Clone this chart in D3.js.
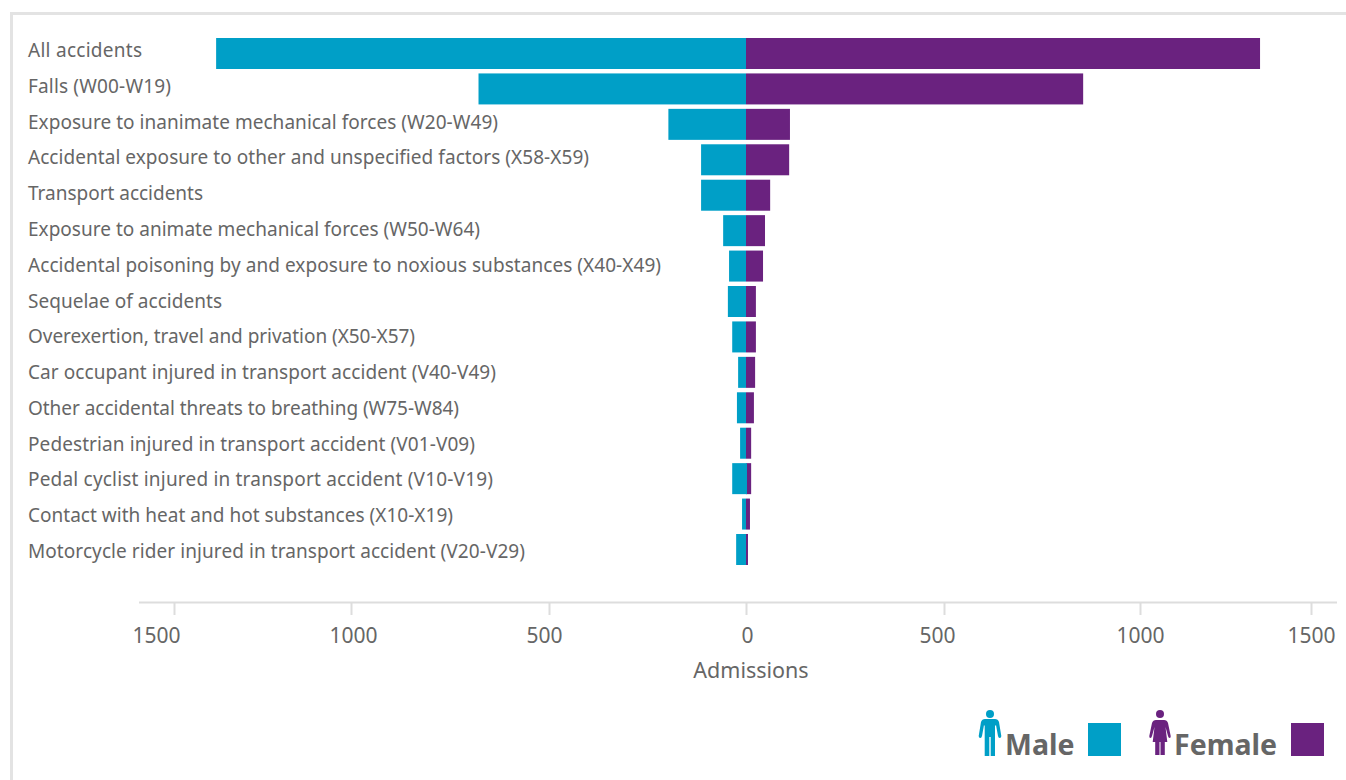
<!DOCTYPE html>
<html><head><meta charset="utf-8">
<script src="https://cdn.jsdelivr.net/npm/d3@7"></script>
<style>
html,body{margin:0;padding:0;background:#fff;overflow:hidden}
text{font-family:"Noto Sans",sans-serif;fill:#666}
</style></head><body>
<svg id="c" width="1346" height="780"></svg>
<script>
const categories=["All accidents","Falls (W00-W19)","Exposure to inanimate mechanical forces (W20-W49)","Accidental exposure to other and unspecified factors (X58-X59)","Transport accidents","Exposure to animate mechanical forces (W50-W64)","Accidental poisoning by and exposure to noxious substances (X40-X49)","Sequelae of accidents","Overexertion, travel and privation (X50-X57)","Car occupant injured in transport accident (V40-V49)","Other accidental threats to breathing (W75-W84)","Pedestrian injured in transport accident (V01-V09)","Pedal cyclist injured in transport accident (V10-V19)","Contact with heat and hot substances (X10-X19)","Motorcycle rider injured in transport accident (V20-V29)"];
const male=[1381,678,197,114,114,58,43,46,35,20,23,15,35,10,25];
const female=[1351,855,111,109,61,48,43,25,25,23,20,13,13,10,5];
const maleOverlap=[0,0,0,0,0,0,0,0,0,0,0,0,2.5,0,0];
const tickValues=[-1500,-1000,-500,0,500,1000,1500];
const maleColor="#009fc7",femaleColor="#6a227f";
const labelWidths=new Map(categories.map((c,i)=>[c,[114,143,470,561,175,452,633,194,387,468,431,447,465,425,497][i]]));
const svg=d3.select("#c");
svg.append("rect").attr("x",11.5).attr("y",13.5).attr("width",1400).attr("height",800).attr("fill","none").attr("stroke","#e3e3e3").attr("stroke-width",3);
const x=d3.scaleLinear().domain(tickValues).range([174,351,549,746,944,1140,1311]);
const labelX=d3.scaleOrdinal().domain(tickValues).range([156,353,544,747,937,1140,1311]);
const y=d3.scaleBand().domain(categories).range([38,565]).paddingInner(0.125).paddingOuter(0);
const labelY=d3.scalePoint().domain(categories).range([57,558]);
svg.append("g").selectAll("rect").data(categories).join("rect")
 .attr("x",x(0)).attr("y",d=>y(d)).attr("height",y.bandwidth())
 .attr("width",(d,i)=>x(female[i])-x(0)).attr("fill",femaleColor);
svg.append("g").selectAll("rect").data(categories).join("rect")
 .attr("x",(d,i)=>x(-male[i])).attr("y",d=>y(d)).attr("height",y.bandwidth())
 .attr("width",(d,i)=>x(maleOverlap[i])-x(-male[i])).attr("fill",maleColor);
svg.append("g").selectAll("text").data(categories).join("text")
 .attr("x",28).attr("y",d=>labelY(d)).attr("font-size",19)
 .attr("textLength",d=>labelWidths.get(d)).attr("lengthAdjust","spacing").text(d=>d);
const ax=d3.axisBottom(x).tickValues(tickValues).tickFormat(d=>Math.abs(d)).tickSize(13).tickSizeOuter(0).tickPadding(9);
const gx=svg.append("g").attr("transform","translate(0,602)").call(ax);
gx.select(".domain").attr("d","M139,0.5H1337").attr("stroke","#ddd").attr("stroke-width",2);
gx.selectAll(".tick line").attr("stroke","#ddd").attr("stroke-width",2);
gx.selectAll(".tick text").attr("font-size",21).style("font-family",'"Noto Sans",sans-serif').attr("fill","#666")
 .attr("dy",null).attr("y",41).attr("x",d=>labelX(d)-x(d));
svg.append("text").attr("x",751).attr("y",678).attr("text-anchor","middle").attr("font-size",21.5).text("Admissions");
const lg=svg.append("g");
function man(g,c){g.append("circle").attr("cx",12).attr("cy",4).attr("r",4).attr("fill",c);
 g.append("path").attr("fill",c).attr("d","M7,9H17Q20,9 21,12L23.3,26Q23.5,28 21.5,28Q20.5,28 20,26L18,15L17,16V46H12.7V27H11.3V46H6.7V16L6,15L4,26Q3.5,28 2.5,28Q0.5,28 0.7,26L3,12Q4,9 7,9Z");}
function woman(g,c){g.append("circle").attr("cx",11).attr("cy",4).attr("r",4).attr("fill",c);
 g.append("path").attr("fill",c).attr("d","M7,10H15Q18,10 19,13L21.7,26Q22,28 20.5,28Q19.5,28 19,26L16.5,17L18.3,32H15.8V45H11.5V32H10.5V45H6.2V32H3.7L5.5,17L3,26Q2.5,28 1.5,28Q0,28 0.3,26L3,13Q4,10 7,10Z");}
man(lg.append("g").attr("transform","translate(978,710)"),maleColor);
woman(lg.append("g").attr("transform","translate(1149,710)"),femaleColor);
lg.append("text").attr("x",1005).attr("y",755).attr("font-size",28.5).attr("font-weight",700).text("Male");
lg.append("text").attr("x",1174).attr("y",755).attr("font-size",28.5).attr("font-weight",700).text("Female");
lg.append("rect").attr("x",1088).attr("y",723).attr("width",33).attr("height",33).attr("fill",maleColor);
lg.append("rect").attr("x",1291).attr("y",723).attr("width",33).attr("height",33).attr("fill",femaleColor);
</script></body></html>
